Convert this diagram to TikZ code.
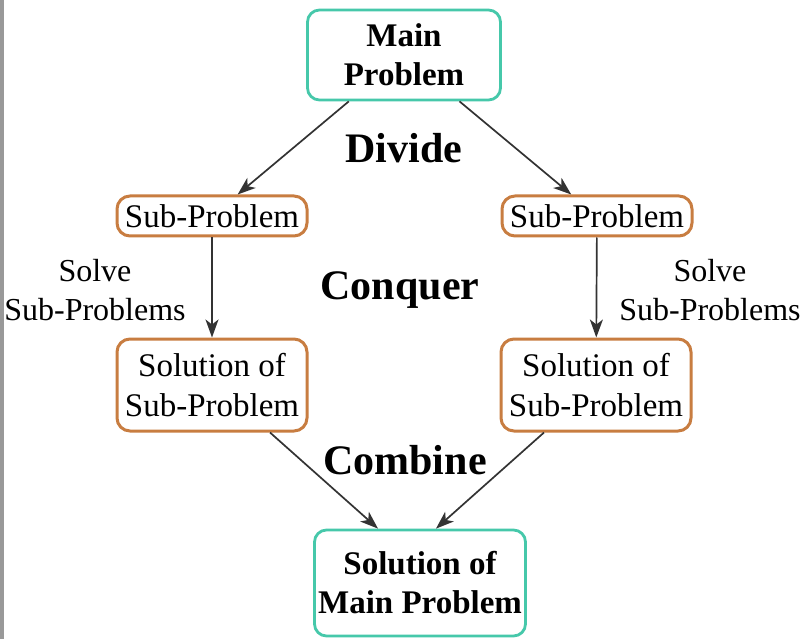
\documentclass[tikz,border=0pt]{standalone}
\usepackage{fontspec}
\setmainfont{Liberation Serif}
\usetikzlibrary{arrows.meta,positioning,calc}
\definecolor{tealline}{RGB}{70,200,170}
\definecolor{orangeline}{RGB}{200,125,65}
\tikzset{x=1pt, y=-1pt, % one unit = one pixel of the sketch
        mainbox/.style={ % Boxes for the main problem and its solution
            draw=tealline,
            line width=2.8pt,
            rounded corners=12pt,
            fill=white,
            align=center,
            font=\bfseries\fontsize{33}{39}\selectfont},
        subbox/.style={ % Boxes for the sub-problems
            draw=orangeline,
            line width=3pt,
            rounded corners=13pt,
            fill=white,
            align=center,
            minimum width=190pt,
            font=\fontsize{33}{40}\selectfont},
        phase/.style={font=\bfseries\fontsize{42}{48}\selectfont},
        every edge/.style={ % Sets the properties for each arrow
            draw,
            -{Stealth[length=18pt,width=13pt,inset=5pt]},
            line width=1.7pt,
            black!80}
        }
\begin{document}
\begin{tikzpicture}
    \useasboundingbox (0,0) rectangle (806,639);
    \fill[white] (0,0) rectangle (806,639);
    \fill[black!40] (0,0) rectangle (4,639);

    \node[mainbox, minimum width=193pt, minimum height=90pt] (m) at (404,55) {Main\\Problem};
    \node[subbox, minimum height=40pt] (a) at (212,216) {Sub-Problem};
    \node[subbox, minimum height=40pt] (b) at (597,216) {Sub-Problem};
    \node[subbox, minimum height=92pt] (c) at (212,385) {Solution of\\Sub-Problem};
    \node[subbox, minimum height=92pt] (d) at (596,385) {Solution of\\Sub-Problem};
    \node[mainbox, minimum width=211pt, minimum height=106pt] (s) at (420,583) {Solution of\\Main Problem};

    \node[phase] (divide) at (404,148) {Divide};
    \node[phase] (conquer) at (400,290) {Conquer};
    \node[phase] (combine) at (405,460) {Combine};

    \node[align=center, font=\fontsize{32}{39}\selectfont] (ls) at (95,290) {Solve\\Sub-Problems};
    \node[align=center, font=\fontsize{32}{39}\selectfont] (rs) at (710,290) {Solve\\Sub-Problems};

    \draw
        (m)
            edge (a)
            edge (b)
        (a)
            edge (c)
        (b)
            edge (d)
        ([xshift=58pt]c.south)
            edge ([xshift=-42pt]s.north)
        ([xshift=-52pt]d.south)
            edge ([xshift=16pt]s.north);
\end{tikzpicture}
\end{document}
